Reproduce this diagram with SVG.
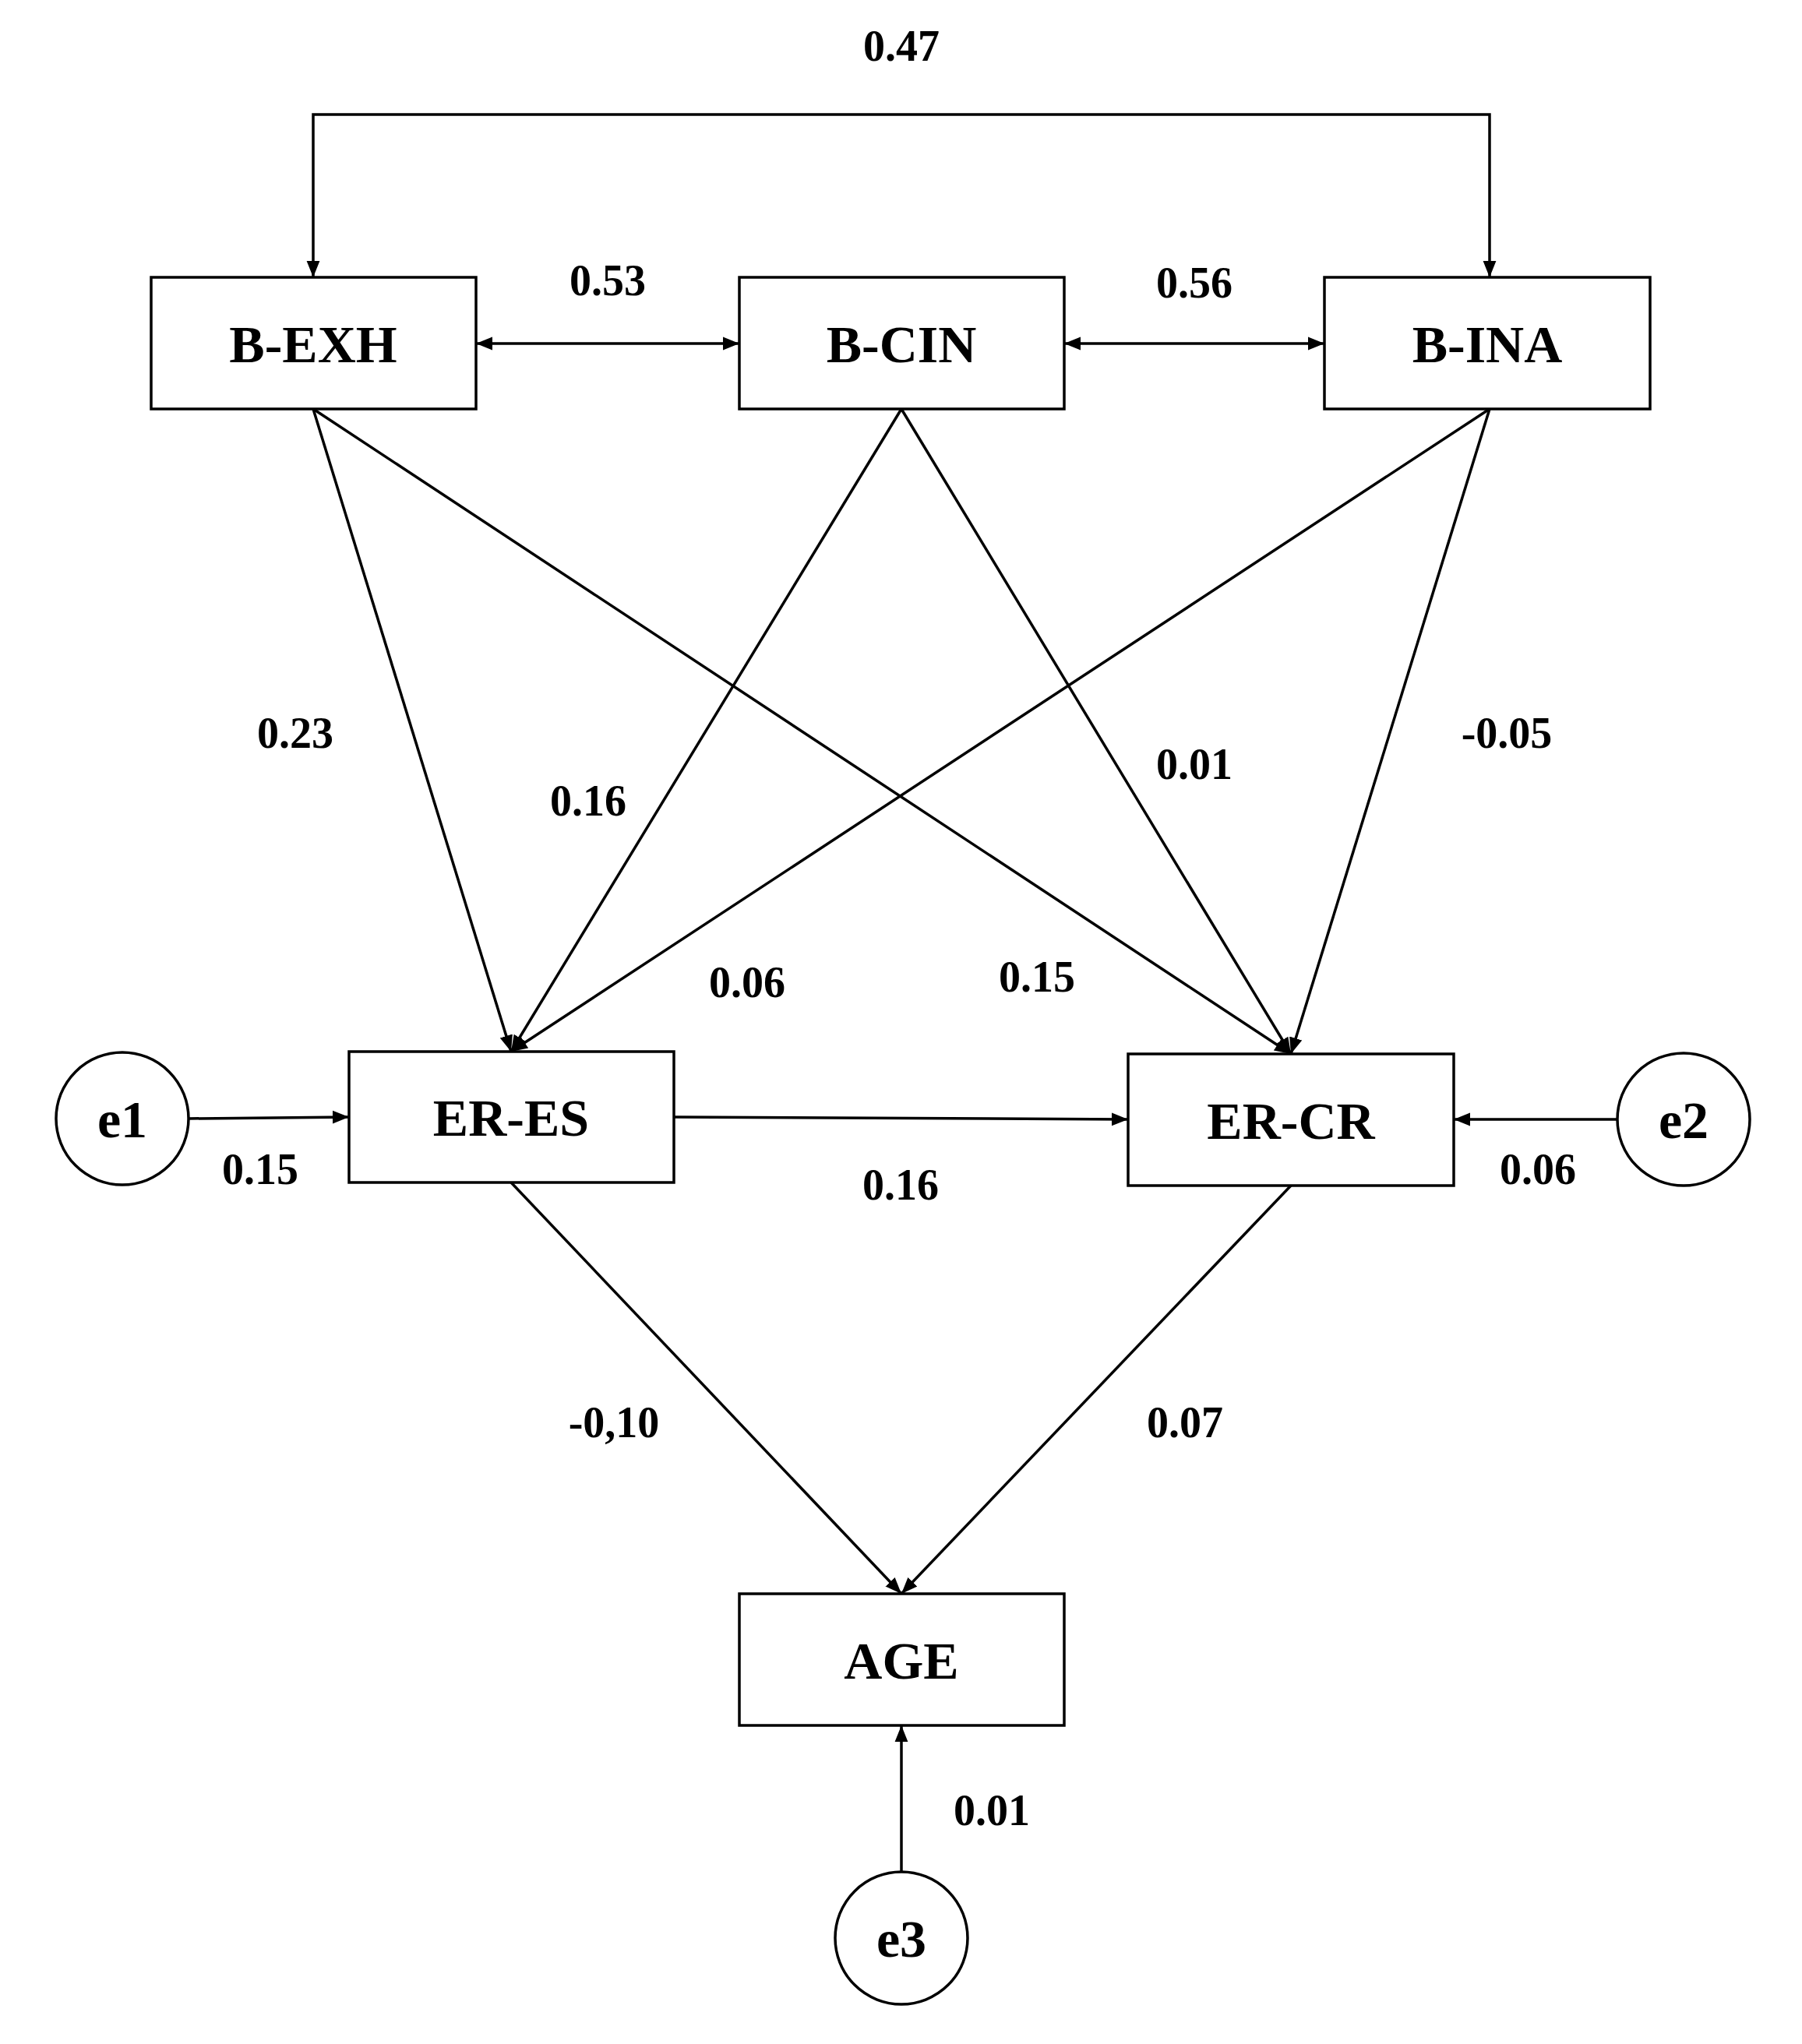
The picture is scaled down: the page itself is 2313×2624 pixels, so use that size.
<svg xmlns="http://www.w3.org/2000/svg" width="2313" height="2624" viewBox="0 0 2313 2624">
<style>
.b{fill:#fff;stroke:#000;stroke-width:3.5}
.t{font-family:"Liberation Serif",serif;font-weight:bold;font-size:68px;text-anchor:middle}
.n{font-family:"Liberation Serif",serif;font-weight:bold;font-size:56px;text-anchor:middle}
.c line,.c path{stroke:#000;stroke-width:3.5;fill:none;marker-end:url(#a)}
</style>
<defs>
<marker id="a" viewBox="0 0 10 10" refX="10" refY="5" markerWidth="6" markerHeight="6" markerUnits="strokeWidth" orient="auto-start-reverse"><path d="M0,1 L10,5 L0,9 z" fill="#000"/></marker>
</defs>
<rect width="2313" height="2624" fill="#fff"/>
<g class="c" id="connectors">
<path d="M402,356 V147 H1912 V356" style="marker-start:url(#a)"/>
<line x1="611" y1="441" x2="949" y2="441" style="marker-start:url(#a)"/>
<line x1="1366" y1="441" x2="1700" y2="441" style="marker-start:url(#a)"/>
<line x1="402" y1="525" x2="656" y2="1350"/>
<line x1="402" y1="525" x2="1657" y2="1353"/>
<line x1="1157" y1="525" x2="656" y2="1350"/>
<line x1="1157" y1="525" x2="1657" y2="1353"/>
<line x1="1912" y1="525" x2="656" y2="1350"/>
<line x1="1912" y1="525" x2="1657" y2="1353"/>
<line x1="865" y1="1434" x2="1448" y2="1437"/>
<line x1="242" y1="1436" x2="448" y2="1434"/>
<line x1="2076" y1="1437" x2="1866" y2="1437"/>
<line x1="656" y1="1518" x2="1157" y2="2046"/>
<line x1="1657" y1="1522" x2="1157" y2="2046"/>
<line x1="1157" y1="2403" x2="1157" y2="2215"/>
</g>
<g id="labels">
<text class="n" x="1157" y="78">0.47</text>
<text class="n" x="780" y="379">0.53</text>
<text class="n" x="1533" y="382">0.56</text>
<text class="n" x="379" y="960">0.23</text>
<text class="n" x="755" y="1047">0.16</text>
<text class="n" x="1533" y="1000">0.01</text>
<text class="n" x="1934" y="960">-0.05</text>
<text class="n" x="959" y="1280">0.06</text>
<text class="n" x="1331" y="1273">0.15</text>
<text class="n" x="334" y="1520">0.15</text>
<text class="n" x="1156" y="1540">0.16</text>
<text class="n" x="1974" y="1520">0.06</text>
<text class="n" x="788" y="1845">-0,10</text>
<text class="n" x="1521" y="1845">0.07</text>
<text class="n" x="1273" y="2343">0.01</text>
</g>
<g id="B-EXH"><rect class="b" x="194" y="356" width="417" height="169"/><text class="t" x="402" y="465">B-EXH</text></g>
<g id="B-CIN"><rect class="b" x="949" y="356" width="417" height="169"/><text class="t" x="1157" y="465">B-CIN</text></g>
<g id="B-INA"><rect class="b" x="1700" y="356" width="418" height="169"/><text class="t" x="1909" y="465">B-INA</text></g>
<g id="ER-ES"><rect class="b" x="448" y="1350" width="417" height="168"/><text class="t" x="656" y="1458">ER-ES</text></g>
<g id="ER-CR"><rect class="b" x="1448" y="1353" width="418" height="169"/><text class="t" x="1657" y="1462">ER-CR</text></g>
<g id="AGE"><rect class="b" x="949" y="2046" width="417" height="169"/><text class="t" x="1157" y="2155">AGE</text></g>
<g id="e1"><circle class="b" cx="157" cy="1436" r="85"/><text class="t" x="157" y="1460">e1</text></g>
<g id="e2"><circle class="b" cx="2161" cy="1437" r="85"/><text class="t" x="2161" y="1461">e2</text></g>
<g id="e3"><circle class="b" cx="1157" cy="2488" r="85"/><text class="t" x="1157" y="2512">e3</text></g>
</svg>
